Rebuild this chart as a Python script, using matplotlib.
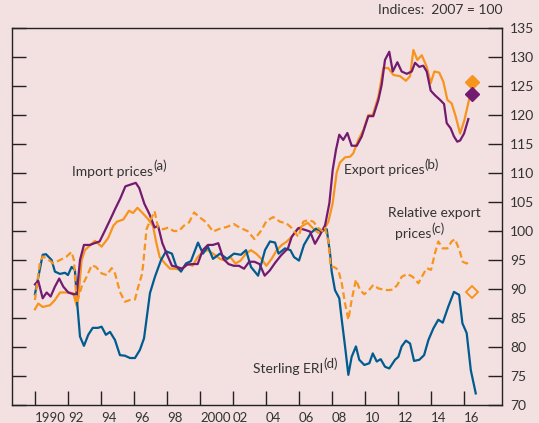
import matplotlib
matplotlib.use("Agg")
import matplotlib.pyplot as plt

# Sterling ERI (d)
eri_year = [1990.0, 1990.47, 1990.67, 1991.01, 1991.21, 1991.52, 1991.82, 1992.0, 1992.22, 1992.42,
            1992.56, 1992.73, 1992.97, 1993.23, 1993.5, 1993.82, 1994.04, 1994.3, 1994.55, 1994.85,
            1995.15, 1995.45, 1995.76, 1996.06, 1996.36, 1996.61, 1996.97, 1997.27, 1997.64, 1997.94,
            1998.3, 1998.55, 1998.85, 1999.15, 1999.45, 1999.88, 2000.18, 2000.48, 2000.79, 2001.21,
            2001.64, 2002.06, 2002.48, 2002.79, 2003.09, 2003.52, 2003.94, 2004.24, 2004.55, 2004.76,
            2005.15, 2005.48, 2005.7, 2006.0, 2006.3, 2006.73, 2007.03, 2007.33, 2007.68, 2007.88,
            2007.98, 2008.18, 2008.44, 2008.59, 2008.79, 2008.99, 2009.19, 2009.45, 2009.65, 2009.96,
            2010.26, 2010.47, 2010.71, 2010.95, 2011.21, 2011.47, 2011.82, 2012.02, 2012.22, 2012.48,
            2012.73, 2012.97, 2013.29, 2013.58, 2013.84, 2014.14, 2014.44, 2014.71, 2015.05, 2015.39,
            2015.7, 2015.9, 2016.16, 2016.41, 2016.71]
eri = [89.1, 95.9, 96.0, 95.0, 93.0, 92.6, 92.8, 92.4, 93.8, 93.3,
       87.6, 81.8, 80.2, 82.1, 83.3, 83.3, 83.5, 82.1, 82.6, 81.2,
       78.6, 78.5, 78.1, 78.1, 79.5, 81.5, 89.3, 92.1, 95.0, 96.5,
       96.1, 94.0, 93.0, 94.4, 94.8, 98.0, 96.1, 97.3, 95.2, 96.1,
       95.2, 96.1, 95.9, 96.7, 93.8, 92.3, 96.7, 98.2, 98.0, 96.1,
       97.0, 96.7, 95.5, 94.9, 97.6, 99.7, 100.4, 100.0, 100.3, 96.2,
       93.0, 89.8, 88.4, 84.7, 80.1, 75.2, 78.3, 80.1, 77.8, 76.9,
       77.2, 78.9, 77.5, 77.9, 76.6, 76.3, 77.8, 78.3, 80.1, 81.1,
       80.6, 77.6, 77.8, 78.6, 81.2, 83.2, 84.7, 84.2, 87.0, 89.5,
       89.0, 84.1, 82.4, 76.0, 72.0]

# Import prices (a)
imp_year = [1990.0, 1990.2, 1990.47, 1990.71, 1990.95, 1991.21, 1991.47, 1991.72, 1992.02, 1992.32,
            1992.53, 1992.73, 1992.97, 1993.33, 1993.61, 1993.92, 1994.23, 1994.55, 1994.86, 1995.17,
            1995.48, 1995.79, 1996.11, 1996.32, 1996.63, 1996.94, 1997.25, 1997.46, 1997.72, 1997.98,
            1998.3, 1998.61, 1998.92, 1999.23, 1999.55, 1999.86, 2000.17, 2000.48, 2000.79, 2001.11,
            2001.42, 2001.73, 2002.05, 2002.36, 2002.67, 2002.98, 2003.3, 2003.61, 2003.92, 2004.23,
            2004.55, 2004.91, 2005.33, 2005.56, 2005.96, 2006.36, 2006.67, 2006.97, 2007.27, 2007.58,
            2007.84, 2008.04, 2008.24, 2008.44, 2008.68, 2008.93, 2009.19, 2009.5, 2009.8, 2010.2,
            2010.5, 2010.81, 2011.01, 2011.21, 2011.47, 2011.68, 2011.96, 2012.22, 2012.53, 2012.83,
            2013.03, 2013.29, 2013.53, 2013.74, 2013.98, 2014.24, 2014.55, 2014.79, 2014.95, 2015.19,
            2015.39, 2015.59, 2015.76, 2016.0, 2016.26]
imp = [90.8, 91.4, 88.4, 89.4, 88.7, 90.4, 91.8, 90.4, 89.4, 89.1,
       89.1, 95.0, 97.6, 97.6, 97.9, 98.2, 100.0, 101.9, 103.8, 105.6,
       107.7, 108.0, 108.3, 107.4, 104.7, 102.9, 100.6, 100.9, 97.9, 96.1,
       94.0, 93.8, 93.5, 94.2, 94.3, 94.3, 96.7, 97.6, 97.6, 97.9,
       95.2, 94.3, 94.0, 94.0, 93.5, 94.7, 94.7, 94.3, 92.3, 93.2,
       94.5, 95.8, 97.0, 99.0, 100.5, 100.2, 99.9, 97.8, 99.3, 101.0,
       104.8, 110.5, 114.0, 116.6, 115.7, 116.9, 114.7, 114.7, 116.3, 119.8,
       119.8, 122.6, 125.2, 129.5, 130.9, 127.5, 129.1, 127.5, 127.1, 127.5,
       129.0, 128.3, 128.5, 127.5, 124.2, 123.4, 122.6, 121.9, 118.6, 117.7,
       116.3, 115.4, 115.6, 116.8, 119.3]

# Export prices (b)
exp_year = [1990.0, 1990.2, 1990.47, 1990.91, 1991.21, 1991.52, 1992.02, 1992.32, 1992.53, 1992.62,
            1992.83, 1993.03, 1993.33, 1993.64, 1994.04, 1994.44, 1994.75, 1994.97, 1995.36, 1995.7,
            1995.94, 1996.21, 1996.52, 1996.84, 1997.15, 1997.36, 1997.56, 1997.88, 1998.19, 1998.5,
            1998.82, 1999.23, 1999.55, 1999.86, 2000.17, 2000.48, 2000.79, 2001.21, 2001.53, 2001.84,
            2002.15, 2002.46, 2002.78, 2003.09, 2003.4, 2003.72, 2004.02, 2004.34, 2004.65, 2004.96,
            2005.27, 2005.59, 2005.9, 2006.21, 2006.53, 2006.84, 2007.15, 2007.46, 2007.78, 2008.04,
            2008.28, 2008.48, 2008.79, 2009.09, 2009.29, 2009.59, 2009.9, 2010.2, 2010.47, 2010.81,
            2011.11, 2011.41, 2011.72, 2012.12, 2012.48, 2012.73, 2012.93, 2013.17, 2013.44, 2013.74,
            2013.98, 2014.2, 2014.5, 2014.75, 2014.99, 2015.25, 2015.5, 2015.76, 2016.02, 2016.3]
exp = [86.5, 87.5, 86.9, 87.2, 88.1, 89.4, 89.4, 89.3, 87.1, 88.4,
       95.0, 96.7, 97.5, 98.3, 97.3, 98.8, 100.9, 101.6, 102.0, 103.5,
       103.1, 104.0, 103.1, 102.1, 100.9, 97.9, 95.5, 94.4, 93.5, 93.5,
       93.3, 94.4, 94.0, 95.5, 96.4, 96.7, 96.1, 95.2, 94.9, 95.5,
       94.4, 94.9, 96.1, 96.7, 96.1, 95.2, 94.0, 95.2, 96.7, 97.6,
       98.2, 99.1, 100.3, 100.9, 101.4, 100.5, 99.7, 100.0, 101.6, 104.8,
       110.0, 111.8, 112.7, 112.8, 113.4, 115.7, 117.4, 120.0, 120.0, 123.2,
       128.1, 128.1, 126.9, 126.7, 125.9, 126.7, 131.2, 129.5, 130.3, 128.3,
       125.5, 127.5, 127.3, 125.7, 122.6, 122.0, 119.7, 116.8, 119.1, 122.6]

# Relative export prices (c)
rel_year = [1990.0, 1990.3, 1990.47, 1990.71, 1991.11, 1991.52, 1991.92, 1992.22, 1992.36, 1992.53,
            1992.83, 1993.13, 1993.44, 1993.7, 1994.04, 1994.35, 1994.65, 1994.85, 1995.15, 1995.45,
            1995.76, 1996.06, 1996.26, 1996.47, 1996.55, 1996.76, 1996.94, 1997.25, 1997.46, 1997.78,
            1998.08, 1998.4, 1998.72, 1999.02, 1999.34, 1999.65, 1999.96, 2000.38, 2000.79, 2001.21,
            2001.63, 2002.05, 2002.46, 2002.88, 2003.3, 2003.72, 2004.02, 2004.44, 2004.85, 2005.25,
            2005.56, 2005.96, 2006.26, 2006.56, 2006.87, 2007.17, 2007.47, 2007.58, 2007.78, 2007.92,
            2008.12, 2008.38, 2008.59, 2008.79, 2008.99, 2009.19, 2009.45, 2009.7, 2009.96, 2010.24,
            2010.5, 2010.81, 2011.11, 2011.41, 2011.68, 2011.96, 2012.22, 2012.56, 2012.89, 2013.23,
            2013.5, 2013.74, 2014.0, 2014.24, 2014.44, 2014.71, 2014.99, 2015.25, 2015.45, 2015.72,
            2015.92, 2016.16, 2016.3]
rel = [88.1, 94.5, 95.6, 95.3, 94.4, 95.0, 95.6, 96.4, 95.0, 87.5,
       90.4, 92.1, 94.1, 93.8, 92.7, 92.4, 93.6, 92.7, 89.5, 87.8,
       88.1, 88.2, 90.4, 92.4, 94.0, 100.3, 101.5, 103.4, 100.6, 100.3,
       100.6, 100.0, 100.0, 100.9, 101.5, 103.2, 102.4, 101.5, 99.9, 100.4,
       100.7, 101.2, 100.5, 100.0, 98.6, 100.1, 101.7, 102.4, 101.6, 101.3,
       100.5, 99.0, 101.6, 101.9, 101.6, 100.5, 99.9, 100.5, 98.2, 93.8,
       93.8, 93.3, 91.0, 87.5, 84.7, 88.1, 91.6, 89.8, 89.1, 89.8,
       90.7, 90.1, 89.9, 89.8, 89.9, 90.7, 92.1, 92.6, 92.1, 91.0,
       92.4, 93.6, 93.3, 96.2, 98.2, 97.0, 97.0, 98.2, 98.6, 96.7,
       94.7, 94.4, 94.7]

# projections shown as diamonds
proj_year = 2016.5
proj_exp = 125.7
proj_imp = 123.6
proj_rel = 89.5

orange = "#F7941D"
purple = "#721B70"
blue = "#005B8E"
bg = "#F3E0E1"
txt = "#333333"

plt.rcParams["font.family"] = ["Lato", "DejaVu Sans"]

fig = plt.figure(figsize=(5.39, 4.23), dpi=100, facecolor=bg)
ax = fig.add_axes([12 / 539, 18 / 423, 490 / 539, 377 / 423], facecolor=bg)

ax.plot(exp_year, exp, color=orange, lw=1.6, zorder=2)
ax.plot(eri_year, eri, color=blue, lw=1.6, zorder=3)
ax.plot(imp_year, imp, color=purple, lw=1.6, zorder=4)
ax.plot(rel_year, rel, color=orange, lw=1.6, ls=(0, (3.0, 1.6)), zorder=5)

ax.plot([proj_year], [proj_exp], marker="D", ms=7, color=orange, ls="none", zorder=6)
ax.plot([proj_year], [proj_imp], marker="D", ms=7, color=purple, ls="none", zorder=6)
ax.plot([proj_year], [proj_rel], marker="D", ms=6, mfc="none", mec=orange, mew=1.4,
        ls="none", zorder=6)

ax.set_xlim(1988.61, 2018.3)
ax.set_ylim(70, 135)

xt = list(range(1990, 2017, 2))
xl = ["1990"] + ["%02d" % (y % 100) for y in xt[1:]]
xl[5] = "2000"
ax.set_xticks(xt)
ax.set_xticklabels(xl, ha="left")
ax.set_yticks(range(70, 136, 5))
ax.tick_params(axis="x", direction="in", length=10, width=1, colors="#222222",
               labelcolor=txt, labelsize=9.5, pad=5)
ax.tick_params(axis="y", direction="in", length=10, width=1, colors="#222222",
               labelcolor=txt, labelsize=10, left=True, right=True,
               labelleft=False, labelright=True, pad=6)
for s in ax.spines.values():
    s.set_color("#222222")
    s.set_linewidth(1)


def label(x, y, s, sup=None):
    t = ax.text(x, y, s, ha="left", va="center", fontsize=10, color=txt)
    if sup:
        ax.annotate(sup, xy=(1.0, 0.45), xycoords=t, ha="left", va="bottom",
                    fontsize=9.5, color=txt)


ax.text(2018.3, 137.0, "Indices:  2007 = 100", ha="right", va="bottom",
        fontsize=10, color=txt)
label(1992.24, 110.2, "Import prices", "(a)")
label(2008.73, 110.5, "Export prices", "(b)")
label(2011.39, 103.1, "Relative export")
label(2011.82, 99.5, "prices", "(c)")
label(2003.21, 76.2, "Sterling ERI", "(d)")

fig.savefig("out.png", dpi=100, facecolor=bg)
